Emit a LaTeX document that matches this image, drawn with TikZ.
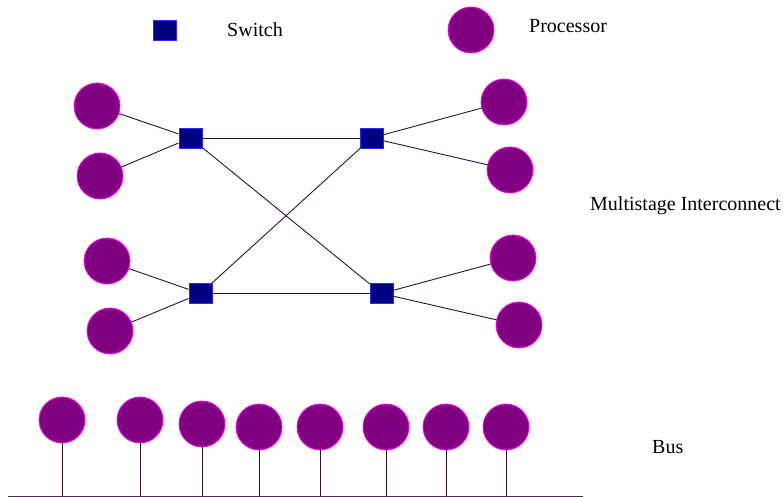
\documentclass[tikz,border=0pt]{standalone}
\usepackage{fontspec}
\setmainfont{Liberation Serif}
\usetikzlibrary{positioning}
\definecolor{procfill}{HTML}{800080}
\definecolor{procedge}{HTML}{FF00FF}
\definecolor{swfill}{HTML}{000080}
\definecolor{swedge}{HTML}{2828FF}
\definecolor{wire}{HTML}{301030}
\definecolor{buswire}{HTML}{4A2A50}

\begin{document}
\begin{tikzpicture}[x=1pt,y=-1pt,font=\fontsize{20}{24}\selectfont,
  proc/.style={circle,fill=procfill,draw=procedge,line width=0.8pt,minimum size=46pt,inner sep=0pt},
  switch/.style={rectangle,fill=swfill,draw=swedge,line width=0.8pt,minimum width=23pt,minimum height=20pt,inner sep=0pt},
  link/.style={draw=wire,line width=0.9pt},
  lbl/.style={anchor=base west,inner sep=0pt}]
\useasboundingbox (0,0) rectangle (784,497);
% legend
\node[switch] (keysw) at (165,30) {};
\node[lbl] (keyswtext) at (227,37) {Switch};
\node[proc] (keyproc) at (471,30) {};
\node[lbl] (keyproctext) at (529,33) {Processor};
% multistage network: four switches, two processors each
\node[switch] (sw1) at (190.5,138) {};
\node[switch] (sw2) at (371.5,138) {};
\node[switch] (sw3) at (200.5,293.5) {};
\node[switch] (sw4) at (381.5,293.5) {};
\node[proc] (p1) at (97,106) {};
\node[proc] (p2) at (100,176) {};
\node[proc] (p3) at (504,102) {};
\node[proc] (p4) at (510,170) {};
\node[proc] (p5) at (107,261) {};
\node[proc] (p6) at (110,331) {};
\node[proc] (p7) at (513,258) {};
\node[proc] (p8) at (519,325) {};
\draw[link] (p1) -- (sw1);
\draw[link] (p2) -- (sw1);
\draw[link] (p3) -- (sw2);
\draw[link] (p4) -- (sw2);
\draw[link] (p5) -- (sw3);
\draw[link] (p6) -- (sw3);
\draw[link] (p7) -- (sw4);
\draw[link] (p8) -- (sw4);
\draw[link] (sw1) -- (sw2);
\draw[link] (sw3) -- (sw4);
\draw[link] (sw1) -- (sw4);
\draw[link] (sw3) -- (sw2);
\node[lbl] (msitext) at (590,211) {Multistage Interconnect};
% bus with eight processors
\coordinate (busL) at (8,496);
\coordinate (busR) at (583,496);
\draw[draw=buswire,line width=1pt] (busL) -- (busR);
\foreach \i/\x/\y in {1/62/420,2/140/420,3/202/424,4/259/427,5/320/427,6/386/427,7/446/427,8/506/427}{
  \node[proc] (b\i) at (\x,\y) {};
  \draw[link] (b\i.south) -- (b\i.south |- busL);
}
\node[lbl] (bustext) at (652,453) {Bus};
\end{tikzpicture}
\end{document}
